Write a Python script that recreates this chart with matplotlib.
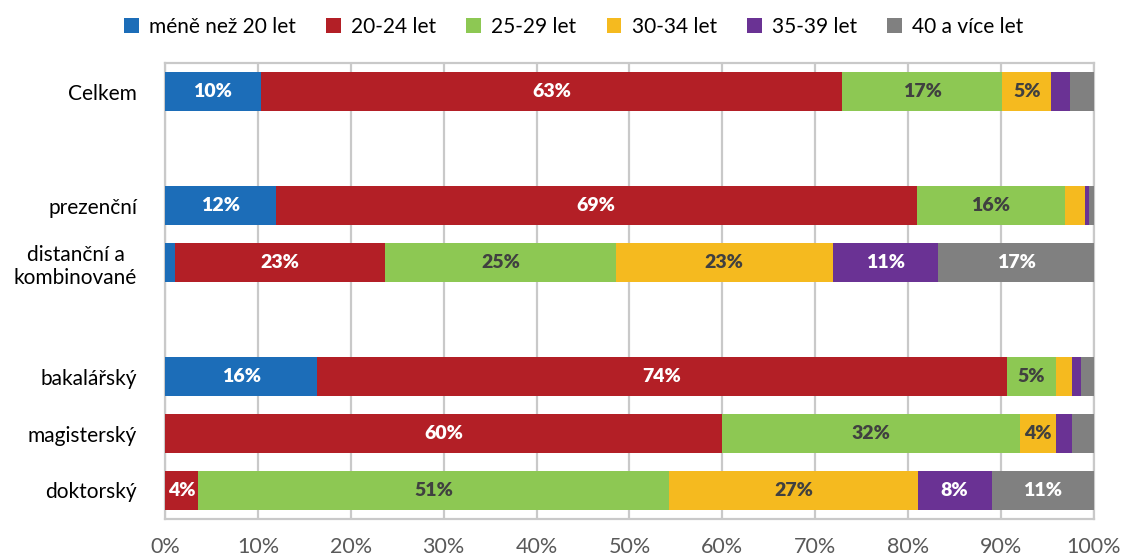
import matplotlib
matplotlib.use("Agg")
import matplotlib.pyplot as plt
from matplotlib.patches import Patch
import numpy as np

plt.rcParams['font.family'] = ['Lato', 'DejaVu Sans']

# Row labels, top to bottom; None marks an empty spacer row
rows = ["Celkem", None, "prezenční", "distanční a\nkombinované", None,
        "bakalářský", "magisterský", "doktorský"]

series = ["méně než 20 let", "20-24 let", "25-29 let", "30-34 let", "35-39 let", "40 a více let"]
colors = ["#1c6db8", "#b31f26", "#8dc853", "#f5ba1f", "#6a3294", "#808080"]
label_colors = ["white", "white", "#404040", "#404040", "white", "white"]

# Shares (%) per row for each age band
under20 = [10.3, 0, 11.9, 1.1, 0, 16.4, 0.0, 0.0]
age20_24 = [62.6, 0, 69.0, 22.6, 0, 74.2, 60.0, 3.6]
age25_29 = [17.2, 0, 16.0, 24.8, 0, 5.3, 32.0, 50.7]
age30_34 = [5.3, 0, 2.1, 23.4, 0, 1.7, 3.9, 26.7]
age35_39 = [2.0, 0, 0.5, 11.3, 0, 1.0, 1.7, 8.0]
age40plus = [2.6, 0, 0.5, 16.8, 0, 1.4, 2.4, 11.0]

data = [under20, age20_24, age25_29, age30_34, age35_39, age40plus]
xticks = [0, 10, 20, 30, 40, 50, 60, 70, 80, 90, 100]

fig = plt.figure(figsize=(11.23, 5.58), dpi=100)
ax = fig.add_axes([0.1469, 0.0699, 0.8273, 0.8171])

y = np.arange(len(rows))
left = np.zeros(len(rows))
for vals, col, lcol in zip(data, colors, label_colors):
    vals = np.array(vals, dtype=float)
    ax.barh(y, vals, left=left, height=0.70, color=col, zorder=3, linewidth=0)
    for yi, (l, v) in enumerate(zip(left, vals)):
        if rows[yi] is not None and v >= 3.5:
            ax.text(l + v / 2, yi, f"{v:.0f}%", ha="center", va="center",
                    color=lcol, fontsize=14, fontweight="heavy", zorder=4)
    left += vals

ax.set_xlim(0, 100)
ax.set_ylim(len(rows) - 0.5, -0.5)
ax.set_xticks(xticks)
ax.set_xticklabels([f"{t}%" for t in xticks], fontsize=15.5, color="#595959")
ax.set_yticks([i for i, r in enumerate(rows) if r is not None])
ax.set_yticklabels([r for r in rows if r is not None], fontsize=15, color="black",
                   multialignment="center")
ax.tick_params(axis="both", length=0)
ax.tick_params(axis="x", pad=13)
ax.tick_params(axis="y", pad=20)
ax.xaxis.grid(True, color="#c9c9c9", linewidth=1.6, zorder=0)
ax.set_axisbelow(True)
for s in ax.spines.values():
    s.set_color("#c9c9c9")
    s.set_linewidth(1.6)

handles = [Patch(facecolor=c, edgecolor="none") for c in colors]
fig.legend(handles, series, loc="center", bbox_to_anchor=(0.511, 0.952), ncol=6,
           frameon=False, fontsize=15, handlelength=0.7, handleheight=0.7,
           handletextpad=0.5, columnspacing=1.45)

fig.savefig("out.png", dpi=100)
